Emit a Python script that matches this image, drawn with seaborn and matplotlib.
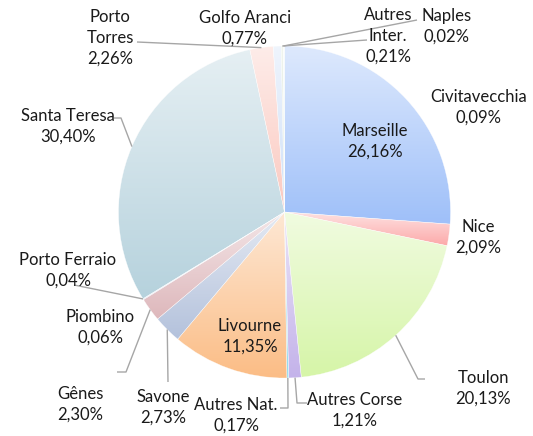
import numpy as np
import matplotlib
matplotlib.use("Agg")
import matplotlib.pyplot as plt
import seaborn as sns
from matplotlib.colors import to_rgb

# part of each port in the traffic (%)
ports = ["Marseille", "Nice", "Toulon", "Autres Corse", "Autres Nat.", "Livourne",
         "Savone", "Gênes", "Piombino", "Porto Ferraio", "Santa Teresa",
         "Porto Torres", "Golfo Aranci", "Autres Inter.", "Naples", "Civitavecchia"]
shares = [26.16, 2.09, 20.13, 1.21, 0.17, 11.35, 2.73, 2.30, 0.06, 0.04, 30.40,
          2.26, 0.77, 0.21, 0.02, 0.09]
names = ["Marseille", "Nice", "Toulon", "Autres Corse", "Autres Nat.", "Livourne",
         "Savone", "Gênes", "Piombino", "Porto Ferraio", "Santa Teresa",
         "Porto\nTorres", "Golfo Aranci", "Autres\nInter.", "Naples", "Civitavecchia"]
colors = ["#9fc0f9", "#fca9a9", "#d6f5a8", "#c4b3ea", "#8fdcef", "#fbbd86",
          "#b4c2dc", "#deb8bc", "#c9b8e0", "#a8dbe8", "#b6d2dd", "#fbc9c0",
          "#cfe0f8", "#d5e4d0", "#c9c0e8", "#b0e0ee"]

sns.set_theme(style="white")
plt.rcParams["font.family"] = ["Lato", "DejaVu Sans"]

# label spots, pixels from the top left corner
label_xy = {
    "Marseille": (375, 141), "Nice": (478, 237), "Toulon": (483, 388),
    "Autres Corse": (355, 410), "Autres Nat.": (236, 415), "Livourne": (250, 336),
    "Savone": (163, 407), "Gênes": (80, 404), "Piombino": (100, 327),
    "Porto Ferraio": (68, 270), "Santa Teresa": (68, 126), "Porto Torres": (110, 38),
    "Golfo Aranci": (245, 28), "Autres Inter.": (388, 36), "Naples": (447, 26),
    "Civitavecchia": (479, 107),
}
# leader line bends after leaving the slice
leaders = {
    "Toulon": [(418, 379), (425, 379)],
    "Autres Corse": [(297, 403), (307, 403)],
    "Autres Nat.": [(288, 408), (280, 408)],
    "Savone": [(168, 382)],
    "Gênes": [(126, 372), (117, 372)],
    "Porto Ferraio": [(74, 285)],
    "Santa Teresa": [(121, 118), (114, 118)],
    "Porto Torres": [(137, 42)],
    "Autres Inter.": [(367, 40)],
    "Naples": [(417, 20)],
}

fig = plt.figure(figsize=(5.33, 4.36), dpi=100)
ax = fig.add_axes([0, 0, 1, 1])
ax.set_xlim(0, 533)
ax.set_ylim(436, 0)
ax.set_aspect("equal")
ax.axis("off")

cx, cy, r = 284.5, 212, 166
wedges, _ = ax.pie(shares, colors=colors, startangle=-90, counterclock=True,
                   center=(cx, cy), radius=r, frame=True,
                   wedgeprops=dict(edgecolor="white", linewidth=0.3))
ax.set_autoscale_on(False)

# vertical light-to-colour gradient inside each slice
for w, c in zip(wedges, colors):
    v = w.get_path().vertices
    x0, x1 = v[:, 0].min(), v[:, 0].max()
    y0, y1 = v[:, 1].min(), v[:, 1].max()
    base = np.array(to_rgb(c))
    a = np.linspace(0.35, 1.0, 64)[:, None]
    grad = (1 - a) * 1.0 + a * base
    im = ax.imshow(grad[:, None, :], extent=(x0, x1, y1, y0), origin="upper",
                   aspect="auto", interpolation="bilinear", zorder=w.get_zorder())
    im.set_clip_path(w)
    w.set_facecolor("none")
    w.set_edgecolor((1, 1, 1, 0.7))
    w.set_zorder(w.get_zorder() + 0.1)

for w, port, name, s in zip(wedges, ports, names, shares):
    tx, ty = label_xy[port]
    pct = f"{s:.2f}".replace(".", ",") + "%"
    ax.text(tx, ty, name + "\n" + pct, ha="center", va="center", fontsize=12,
            color="#1a1a1a", linespacing=1.38)
    if port in leaders:
        t = np.deg2rad((w.theta1 + w.theta2) / 2)
        pts = [(cx + r * np.cos(t), cy + r * np.sin(t))] + leaders[port]
        xs, ys = zip(*pts)
        ax.plot(xs, ys, color="#a6a6a6", lw=1, solid_capstyle="butt")

ax.set_xlim(0, 533)
ax.set_ylim(436, 0)
fig.savefig("out.png", dpi=100)
